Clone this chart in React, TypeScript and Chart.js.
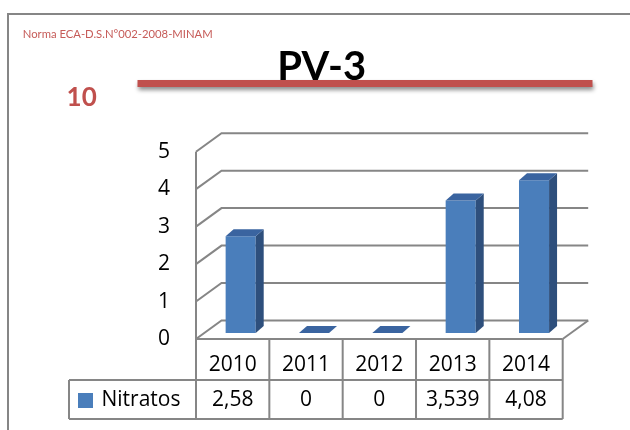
import React, { useEffect, useRef } from 'react';
import { Chart, registerables } from 'chart.js';

Chart.register(...registerables);

// ---- data ----
const YEARS = ['2010', '2011', '2012', '2013', '2014'];
const NITRATOS = [2.58, 0, 0, 3.539, 4.08];
const SERIES_LABEL = 'Nitratos';
const Y_TICKS = [0, 1, 2, 3, 4, 5];
const TITLE = 'PV-3';
const NORM_LABEL = 'Norma ECA-D.S.N°002-2008-MINAM';
const NORM_VALUE = '10';

// ---- styles ----
const FONT = '"Open Sans", Lato, sans-serif';
const TFONT = 'Lato, "Open Sans", sans-serif';
const FRONT = '#4A7EBB';
const TOP = '#3A64A0';
const SIDE = '#2E4F7C';
const GRID = '#868686';
const RED = '#C0504D';
const DEPTH_X = 25.5;
const DEPTH_Y = 18.5;
const BAR_DX = 8;
const BAR_DY = 7;
const BAR_SHIFT_X = 8;
const BAR_SHIFT_Y = -6;
const ROW1_BOTTOM = 380;
const TABLE_BOTTOM = 419;
const LEGEND_LEFT = 69;

const fmt = (v: number) => String(v).replace('.', ',');

const excel3d = {
  id: 'excel3d',
  beforeDraw(chart: any) {
    const { ctx } = chart;
    const xs = chart.scales.x;
    const ys = chart.scales.y;
    ctx.save();
    ctx.fillStyle = '#ffffff';
    ctx.fillRect(0, 0, chart.width, chart.height);
    // outer frame
    ctx.strokeStyle = '#868686';
    ctx.lineWidth = 2;
    ctx.beginPath();
    ctx.moveTo(8, 440);
    ctx.lineTo(8, 14);
    ctx.lineTo(640, 14);
    ctx.stroke();

    // 3D walls / grid
    const L = xs.left;
    const R = xs.right;
    ctx.strokeStyle = GRID;
    ctx.lineWidth = 2;
    ctx.lineJoin = 'miter';
    for (const t of ys.ticks) {
      const py = ys.getPixelForValue(t.value);
      ctx.beginPath();
      ctx.moveTo(L, py);
      ctx.lineTo(L + DEPTH_X, py - DEPTH_Y);
      ctx.lineTo(R + DEPTH_X, py - DEPTH_Y);
      ctx.stroke();
    }
    ctx.beginPath();
    ctx.moveTo(R, ys.bottom);
    ctx.lineTo(R + DEPTH_X, ys.bottom - DEPTH_Y);
    ctx.stroke();
    ctx.restore();
  },
  beforeDatasetsDraw(chart: any) {
    chart.ctx.save();
    chart.ctx.translate(BAR_SHIFT_X, BAR_SHIFT_Y);
  },
  afterDatasetsDraw(chart: any) {
    const { ctx } = chart;
    const meta = chart.getDatasetMeta(0);
    meta.data.forEach((bar: any) => {
      const { x, y, base, width } = bar.getProps(['x', 'y', 'base', 'width'], true);
      const l = x - width / 2;
      const r = x + width / 2;
      ctx.fillStyle = SIDE;
      ctx.beginPath();
      ctx.moveTo(r, y);
      ctx.lineTo(r + BAR_DX, y - BAR_DY);
      ctx.lineTo(r + BAR_DX, base - BAR_DY);
      ctx.lineTo(r, base);
      ctx.closePath();
      ctx.fill();
      ctx.fillStyle = TOP;
      ctx.beginPath();
      ctx.moveTo(l, y);
      ctx.lineTo(l + BAR_DX, y - BAR_DY);
      ctx.lineTo(r + BAR_DX, y - BAR_DY);
      ctx.lineTo(r, y);
      ctx.closePath();
      ctx.fill();
    });
    ctx.restore();
  },
  afterDraw(chart: any) {
    const { ctx } = chart;
    const xs = chart.scales.x;
    const ys = chart.scales.y;
    const L = xs.left;
    const R = xs.right;
    const n = YEARS.length;
    ctx.save();
    // front axis + table
    ctx.strokeStyle = GRID;
    ctx.lineWidth = 2;
    ctx.beginPath();
    ctx.moveTo(L, ys.getPixelForValue(Y_TICKS[Y_TICKS.length - 1]));
    ctx.lineTo(L, TABLE_BOTTOM);
    ctx.moveTo(L, ys.bottom);
    ctx.lineTo(R, ys.bottom);
    ctx.moveTo(LEGEND_LEFT, ROW1_BOTTOM);
    ctx.lineTo(R, ROW1_BOTTOM);
    ctx.moveTo(LEGEND_LEFT, TABLE_BOTTOM);
    ctx.lineTo(R, TABLE_BOTTOM);
    ctx.moveTo(LEGEND_LEFT, ROW1_BOTTOM);
    ctx.lineTo(LEGEND_LEFT, TABLE_BOTTOM);
    for (let i = 1; i <= n; i++) {
      const bx = i === n ? R : (xs.getPixelForValue(i - 1) + xs.getPixelForValue(i)) / 2;
      ctx.moveTo(bx, ys.bottom);
      ctx.lineTo(bx, TABLE_BOTTOM);
    }
    ctx.stroke();

    // values row
    const rowMid = (ROW1_BOTTOM + TABLE_BOTTOM) / 2 + 0.5;
    ctx.fillStyle = '#000';
    ctx.font = `21px ${FONT}`;
    ctx.textAlign = 'center';
    ctx.textBaseline = 'middle';
    const data = chart.data.datasets[0].data as number[];
    data.forEach((v, i) => {
      ctx.fillText(fmt(v), xs.getPixelForValue(i), rowMid);
    });
    // legend cell
    ctx.fillStyle = FRONT;
    ctx.fillRect(78, 393, 15, 15);
    ctx.fillStyle = '#000';
    ctx.textAlign = 'left';
    ctx.fillText(chart.data.datasets[0].label, 101.5, rowMid);

    // title
    ctx.font = `bold 40px ${TFONT}`;
    ctx.textAlign = 'center';
    ctx.textBaseline = 'alphabetic';
    ctx.fillText(TITLE, 321.7, 80);

    // norm line
    ctx.save();
    ctx.shadowColor = 'rgba(0,0,0,0.45)';
    ctx.shadowBlur = 4;
    ctx.shadowOffsetX = 1;
    ctx.shadowOffsetY = 3;
    ctx.fillStyle = RED;
    ctx.fillRect(137.5, 80, 455, 7);
    ctx.restore();

    // norm value
    ctx.fillStyle = RED;
    ctx.font = `bold 26px ${TFONT}`;
    ctx.textAlign = 'center';
    ctx.textBaseline = 'middle';
    ctx.fillText(NORM_VALUE, 81.7, 98);

    // norm label
    ctx.fillStyle = '#C65B58';
    ctx.font = `12px ${TFONT}`;
    ctx.textAlign = 'left';
    const w = ctx.measureText(NORM_LABEL).width;
    ctx.save();
    ctx.translate(22.7, 34.5);
    ctx.scale(190 / w, 1);
    ctx.fillText(NORM_LABEL, 0, 0);
    ctx.restore();
    ctx.restore();
  },
};

export default function App() {
  const ref = useRef<HTMLCanvasElement | null>(null);
  useEffect(() => {
    if (!ref.current) return;
    const chart = new Chart(ref.current, {
      type: 'bar',
      data: {
        labels: YEARS,
        datasets: [
          {
            label: SERIES_LABEL,
            data: NITRATOS,
            backgroundColor: FRONT,
            borderWidth: 0,
            barPercentage: 0.41,
            categoryPercentage: 1,
            clip: false as any,
          },
        ],
      },
      options: {
        animation: false,
        responsive: false,
        devicePixelRatio: 1,
        layout: { padding: { top: 151.7, right: 630 - 562.7, bottom: 0, left: 0 } },
        plugins: {
          legend: { display: false },
          tooltip: { enabled: false },
          title: { display: false },
        },
        scales: {
          x: {
            offset: true,
            grid: { display: false, drawTicks: false },
            border: { display: false },
            ticks: { color: '#000', font: { family: FONT, size: 21 }, padding: 13.5, maxRotation: 0, autoSkip: false },
            afterFit: (s: any) => {
              s.height = 91;
            },
          },
          y: {
            min: Y_TICKS[0],
            max: Y_TICKS[Y_TICKS.length - 1],
            grid: { display: false, drawTicks: false },
            border: { display: false },
            ticks: { color: '#000', font: { family: FONT, size: 21 }, padding: 26 },
            afterBuildTicks: (s: any) => {
              s.ticks = Y_TICKS.map((v) => ({ value: v }));
            },
            afterFit: (s: any) => {
              s.width = 196;
            },
          },
        },
      },
      plugins: [excel3d],
    });
    return () => chart.destroy();
  }, []);
  return (
    <div style={{ position: 'absolute', left: 0, top: 0, width: 630, height: 430 }}>
      <canvas ref={ref} width={630} height={430} />
    </div>
  );
}
